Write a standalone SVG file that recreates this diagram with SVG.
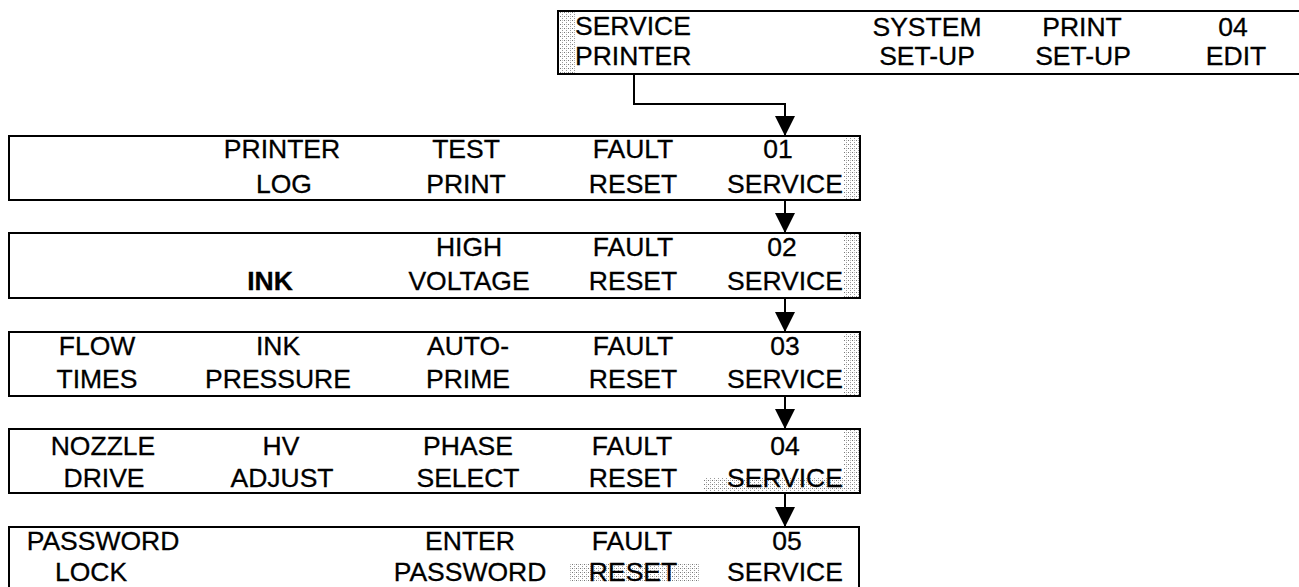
<svg xmlns="http://www.w3.org/2000/svg" width="1299" height="587" viewBox="0 0 1299 587">
  <style>
    .box { fill: none; stroke: #000; stroke-width: 2; }
    .lbl { font-family: "Liberation Sans", Arial, sans-serif; font-size: 26.5px; fill: #000; stroke: #000; stroke-width: 0.3; text-anchor: middle; }
    .left { text-anchor: start; }
    .bold { font-weight: bold; }
    .wire { fill: none; stroke: #000; stroke-width: 2; }
    .shade { fill: url(#dots); }
  </style>
  <defs>
    <!-- halftone stipple used for the shaded key areas -->
    <pattern id="dots" width="4" height="4" patternUnits="userSpaceOnUse">
      <rect width="4" height="4" fill="#fff"/>
      <rect x="0" y="0" width="1" height="1" fill="#777"/>
      <rect x="2" y="2" width="1" height="1" fill="#999"/>
      <rect x="2" y="0" width="1" height="1" fill="#bbb"/>
    </pattern>
    <marker id="arrow" viewBox="0 0 20 20" refX="20" refY="10" markerWidth="20" markerHeight="20" markerUnits="userSpaceOnUse" orient="auto">
      <path d="M0,0 L20,10 L0,20 Z" fill="#000"/>
    </marker>
  </defs>

  <!-- top menu bar -->
  <g id="menu-top">
    <rect class="shade" x="559" y="12" width="16" height="61"/>
    <rect class="box" x="558" y="11" width="760" height="63"/>
    <text class="lbl left" x="575" y="35">SERVICE</text>
    <text class="lbl left" x="575" y="65">PRINTER</text>
    <text class="lbl" x="927" y="36">SYSTEM</text>
    <text class="lbl" x="927" y="65">SET-UP</text>
    <text class="lbl" x="1082" y="36">PRINT</text>
    <text class="lbl" x="1083" y="65">SET-UP</text>
    <text class="lbl" x="1233" y="36">04</text>
    <text class="lbl" x="1236" y="65">EDIT</text>
  </g>

  <!-- service page 01 -->
  <g id="service-01">
    <rect class="shade" x="843" y="137" width="16" height="62"/>
    <rect class="box" x="9" y="136" width="851" height="64"/>
    <text class="lbl" x="282" y="158">PRINTER</text>
    <text class="lbl" x="284" y="193">LOG</text>
    <text class="lbl" x="466" y="158">TEST</text>
    <text class="lbl" x="466" y="193">PRINT</text>
    <text class="lbl" x="633" y="158">FAULT</text>
    <text class="lbl" x="633" y="193">RESET</text>
    <text class="lbl" x="778" y="158">01</text>
    <text class="lbl" x="785" y="193">SERVICE</text>
  </g>

  <!-- service page 02 -->
  <g id="service-02">
    <rect class="shade" x="843" y="234" width="16" height="63"/>
    <rect class="box" x="9" y="233" width="851" height="65"/>
    <text class="lbl bold" x="270" y="290">INK</text>
    <text class="lbl" x="469" y="256">HIGH</text>
    <text class="lbl" x="469" y="290">VOLTAGE</text>
    <text class="lbl" x="633" y="256">FAULT</text>
    <text class="lbl" x="633" y="290">RESET</text>
    <text class="lbl" x="782" y="256">02</text>
    <text class="lbl" x="785" y="290">SERVICE</text>
  </g>

  <!-- service page 03 -->
  <g id="service-03">
    <rect class="shade" x="843" y="333" width="16" height="62"/>
    <rect class="box" x="9" y="332" width="851" height="64"/>
    <text class="lbl" x="97" y="355">FLOW</text>
    <text class="lbl" x="97" y="388">TIMES</text>
    <text class="lbl" x="278" y="355">INK</text>
    <text class="lbl" x="278" y="388">PRESSURE</text>
    <text class="lbl" x="468" y="355">AUTO-</text>
    <text class="lbl" x="468" y="388">PRIME</text>
    <text class="lbl" x="633" y="355">FAULT</text>
    <text class="lbl" x="633" y="388">RESET</text>
    <text class="lbl" x="785" y="355">03</text>
    <text class="lbl" x="785" y="388">SERVICE</text>
  </g>

  <!-- service page 04 -->
  <g id="service-04">
    <rect class="shade" x="843" y="430" width="16" height="62"/>
    <rect class="shade" x="703" y="478" width="140" height="14"/>
    <rect class="box" x="9" y="429" width="851" height="64"/>
    <text class="lbl" x="103" y="455">NOZZLE</text>
    <text class="lbl" x="104" y="487">DRIVE</text>
    <text class="lbl" x="281" y="455">HV</text>
    <text class="lbl" x="282" y="487">ADJUST</text>
    <text class="lbl" x="468" y="455">PHASE</text>
    <text class="lbl" x="468" y="487">SELECT</text>
    <text class="lbl" x="632" y="455">FAULT</text>
    <text class="lbl" x="633" y="487">RESET</text>
    <text class="lbl" x="785" y="455">04</text>
    <text class="lbl" x="785" y="487">SERVICE</text>
  </g>

  <!-- service page 05 -->
  <g id="service-05">
    <rect class="shade" x="570" y="564" width="130" height="18"/>
    <rect class="box" x="9" y="527" width="850" height="80"/>
    <text class="lbl" x="103" y="550">PASSWORD</text>
    <text class="lbl" x="91" y="581">LOCK</text>
    <text class="lbl" x="470" y="550">ENTER</text>
    <text class="lbl" x="470" y="581">PASSWORD</text>
    <text class="lbl" x="632" y="550">FAULT</text>
    <text class="lbl" x="633" y="581">RESET</text>
    <text class="lbl" x="787" y="550">05</text>
    <text class="lbl" x="785" y="581">SERVICE</text>
  </g>

  <!-- connectors -->
  <g id="connectors">
    <path class="wire" d="M634,74 V104 H785 V136" marker-end="url(#arrow)"/>
    <path class="wire" d="M785,200 V233" marker-end="url(#arrow)"/>
    <path class="wire" d="M785,298 V332" marker-end="url(#arrow)"/>
    <path class="wire" d="M785,396 V429" marker-end="url(#arrow)"/>
    <path class="wire" d="M785,493 V527" marker-end="url(#arrow)"/>
  </g>
</svg>
